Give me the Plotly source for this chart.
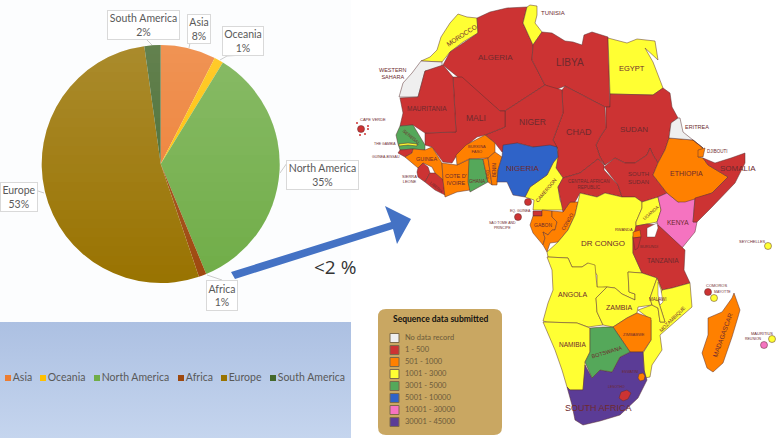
import plotly.graph_objects as go

W, H = 779, 439

# pie data
regions = ['Asia', 'Oceania', 'North America', 'Africa', 'Europe', 'South America']
shares = [7.5, 1.25, 35, 1.05, 53, 2.2]
share_labels = ['8%', '1%', '35%', '1%', '53%', '2%']
region_colors = ['#ED7D31', '#FFC000', '#70AD47', '#9E480E', '#997300', '#43682B']

# callout boxes: centre x, centre y, width, height (image pixels)
callout_boxes = [(198.5, 28.5, 24, 30), (243, 40.5, 42, 30), (322.5, 175, 73, 30),
                 (221.5, 295, 32, 31), (19, 197, 38, 30), (143.5, 25, 73, 30)]
callout_leaders = [[(190, 43), (189, 48)], [(220, 60), (227, 56), (244, 55)], [(280, 173), (287, 163)],
                   [(207, 275), (222, 280)], [(38, 191), (44, 193)], [(152, 45), (147, 40)]]

legend_x = [8, 43, 97, 181, 224, 273]

# sequence-count tiers of the map legend
tier_labels = ['No data record', '1 - 500', '501 - 1000', '1001 - 3000', '3001 - 5000',
               '5001 - 10000', '10001 - 30000', '30001 - 45000']
tier_colors = ['#EFEFEF', '#CC3333', '#FF8000', '#FFFF33', '#55A85A', '#2F63C8', '#F573C0', '#5B3C96']
tier_swatch_y = [338, 350, 362, 374, 386, 398, 410, 422]

morocco = [(421, 61), (430, 57), (437, 50), (441, 37), (450, 23), (458, 14), (467, 17), (477, 18), (478, 33), (463, 42), (450, 52), (442, 62)]
western_sahara = [(421, 61), (442, 62), (442, 70), (425, 71), (418, 97), (399, 97), (403, 83), (412, 73)]
algeria = [(477, 18), (490, 12), (507, 8), (527, 7), (523, 23), (533, 45), (532, 60), (545, 85), (505, 111), (500, 111), (443, 65), (450, 52), (478, 33)]
tunisia = [(527, 7), (530, 5), (537, 6), (537, 15), (535, 23), (542, 32), (535, 42), (533, 45), (523, 23)]
libya = [(542, 32), (552, 33), (565, 41), (573, 42), (582, 45), (584, 35), (592, 32), (608, 37), (610, 107), (605, 107), (565, 86), (555, 90), (545, 85), (532, 60), (533, 45)]
egypt = [(608, 38), (627, 43), (637, 39), (655, 41), (658, 60), (645, 48), (653, 62), (663, 88), (653, 95), (610, 94)]
sudan = [(610, 94), (653, 95), (663, 88), (670, 93), (672, 107), (678, 118), (671, 123), (669, 138), (665, 150), (658, 163), (653, 155), (650, 148), (647, 155), (635, 163), (625, 163), (615, 158), (605, 165), (600, 157), (596, 145), (600, 137), (606, 128), (606, 107), (610, 107)]
chad = [(565, 86), (605, 107), (606, 128), (600, 137), (596, 145), (600, 157), (605, 165), (598, 159), (580, 173), (563, 178), (556, 168), (558, 150), (553, 140), (563, 113), (562, 90)]
niger = [(505, 111), (545, 85), (562, 90), (563, 113), (553, 140), (557, 147), (533, 147), (517, 143), (502, 152), (495, 143), (485, 135), (505, 127)]
mali = [(453, 77), (462, 77), (500, 111), (505, 111), (505, 127), (485, 135), (477, 137), (466, 146), (457, 155), (452, 163), (443, 162), (432, 147), (425, 145), (425, 133), (456, 132)]
mauritania = [(418, 97), (425, 71), (443, 65), (453, 77), (456, 132), (425, 133), (413, 125), (400, 126), (403, 113), (400, 98)]
senegal = [(400, 126), (413, 125), (425, 145), (425, 150), (413, 149), (400, 150), (398, 144), (396, 135)]
gambia = [(399, 144), (408, 143), (417, 144), (417, 146), (408, 145), (399, 146)]
guinea_bissau = [(400, 150), (413, 149), (412, 153), (405, 157), (398, 153)]
guinea = [(413, 149), (425, 150), (432, 147), (442, 163), (443, 180), (435, 173), (432, 167), (423, 163), (418, 168), (412, 163), (405, 157), (412, 153)]
sierra_leone = [(418, 168), (423, 163), (428, 167), (430, 173), (425, 182), (418, 177), (417, 172)]
liberia = [(430, 173), (435, 173), (443, 180), (445, 195), (435, 190), (425, 182)]
cote_divoire = [(442, 163), (457, 165), (470, 159), (469, 182), (470, 190), (457, 192), (445, 197), (443, 180)]
ghana = [(469, 159), (483, 159), (488, 182), (478, 188), (470, 192), (468, 182)]
togo = [(483, 159), (488, 158), (492, 185), (488, 182)]
benin = [(488, 158), (495, 152), (502, 157), (498, 170), (497, 185), (492, 185)]
burkina_faso = [(457, 165), (456, 155), (466, 145), (485, 135), (495, 143), (495, 152), (488, 158), (469, 159)]
cameroon = [(557, 147), (558, 157), (556, 168), (563, 178), (558, 187), (560, 200), (565, 210), (533, 210), (534, 200), (525, 197), (530, 187), (547, 175), (553, 163)]
nigeria = [(498, 170), (502, 157), (503, 145), (517, 143), (533, 147), (550, 145), (557, 147), (558, 157), (553, 163), (547, 175), (530, 187), (525, 197), (513, 195), (507, 182), (497, 182)]
eq_guinea = [(533, 211), (542, 211), (542, 216), (533, 216)]
gabon = [(533, 216), (542, 216), (542, 210), (552, 211), (552, 217), (557, 222), (555, 230), (552, 230), (548, 235), (543, 232), (545, 238), (543, 245), (533, 233), (530, 225)]
congo = [(552, 211), (563, 212), (570, 202), (578, 202), (575, 215), (568, 230), (558, 242), (550, 243), (547, 252), (543, 245), (545, 238), (543, 232), (548, 235), (552, 230), (555, 230), (557, 222), (552, 217)]
car = [(563, 178), (580, 173), (598, 159), (604, 165), (604, 170), (618, 185), (622, 197), (605, 193), (597, 197), (580, 193), (575, 202), (570, 202), (563, 212), (558, 187)]
south_sudan = [(604, 167), (615, 158), (625, 163), (635, 163), (647, 155), (650, 148), (653, 155), (658, 163), (653, 175), (667, 193), (658, 197), (642, 202), (635, 197), (622, 197), (618, 185)]
dr_congo = [(578, 202), (580, 193), (597, 197), (605, 193), (622, 197), (635, 197), (642, 202), (642, 208), (636, 222), (636, 232), (633, 237), (633, 253), (642, 273), (628, 272), (629, 292), (635, 294), (635, 300), (622, 294), (615, 288), (607, 287), (597, 288), (597, 275), (588, 263), (582, 267), (572, 267), (568, 258), (548, 257), (547, 252), (558, 242), (568, 230), (575, 215)]
uganda = [(642, 202), (658, 197), (661, 210), (657, 222), (647, 224), (636, 226), (636, 222), (642, 208)]
kenya = [(658, 197), (667, 193), (678, 202), (695, 198), (693, 222), (697, 222), (695, 232), (682, 248), (658, 225), (657, 222), (661, 210)]
ethiopia = [(669, 138), (693, 140), (703, 148), (698, 157), (703, 158), (708, 165), (728, 177), (712, 193), (698, 198), (685, 202), (678, 202), (667, 193), (653, 175), (658, 163), (665, 150)]
somalia = [(703, 158), (715, 163), (731, 158), (745, 153), (745, 163), (735, 183), (712, 207), (697, 222), (693, 222), (695, 198), (712, 193), (728, 177), (708, 165)]
eritrea = [(678, 118), (680, 118), (683, 132), (703, 148), (693, 140), (669, 138), (671, 123)]
djibouti = [(698, 150), (705, 148), (703, 157), (698, 157)]
tanzania = [(636, 226), (647, 224), (658, 225), (685, 250), (684, 270), (690, 283), (672, 288), (662, 290), (657, 278), (642, 273), (633, 253), (633, 237)]
rwanda = [(633, 232), (640, 230), (641, 237), (633, 238)]
burundi = [(633, 238), (641, 237), (638, 248), (635, 250)]
angola = [(547, 257), (568, 258), (572, 267), (582, 267), (588, 263), (595, 265), (597, 287), (607, 287), (596, 298), (597, 312), (603, 325), (588, 327), (577, 323), (547, 322), (543, 321), (548, 303), (553, 290), (552, 270)]
zambia = [(596, 298), (607, 287), (615, 288), (622, 294), (635, 300), (635, 294), (629, 292), (628, 272), (642, 273), (657, 278), (650, 298), (652, 305), (638, 307), (637, 313), (627, 318), (613, 327), (603, 325), (597, 312)]
malawi = [(657, 278), (662, 290), (658, 300), (665, 322), (660, 322), (658, 308), (652, 305), (650, 298)]
mozambique = [(662, 290), (672, 288), (690, 283), (692, 307), (660, 335), (662, 350), (652, 365), (650, 377), (645, 378), (643, 353), (651, 340), (651, 320), (638, 310), (652, 305), (658, 308), (660, 322), (665, 322), (658, 300)]
zimbabwe = [(613, 327), (627, 318), (637, 313), (651, 318), (651, 340), (643, 352), (630, 352), (623, 342)]
botswana = [(590, 328), (603, 327), (613, 327), (623, 342), (630, 352), (620, 357), (612, 372), (600, 370), (592, 378), (585, 362), (590, 352)]
namibia = [(543, 322), (577, 323), (590, 328), (590, 352), (585, 362), (585, 368), (583, 390), (570, 390), (567, 387), (562, 370), (555, 350)]
south_africa = [(567, 387), (570, 390), (583, 390), (585, 365), (592, 378), (600, 370), (612, 372), (620, 357), (630, 352), (643, 352), (644, 370), (647, 380), (638, 398), (620, 415), (600, 421), (583, 425), (575, 420), (572, 405)]
lesotho = [(621, 392), (627, 390), (631, 393), (628, 399), (623, 401), (619, 398)]
eswatini = [(639, 374), (643, 373), (645, 376), (644, 380), (640, 381), (638, 378)]
madagascar = [(734, 293), (740, 310), (738, 317), (732, 337), (723, 363), (713, 372), (707, 368), (702, 353), (708, 335), (708, 318), (722, 312), (732, 298)]
lake_victoria = [(647, 228), (657, 223), (658, 228), (655, 237), (647, 237)]
lake_malawi = [(658, 282), (661, 290), (663, 302), (660, 305), (658, 295)]

# (outline, tier index), in drawing order
map_countries = [
    (morocco, 3), (western_sahara, 0), (algeria, 1), (tunisia, 3), (libya, 1), (egypt, 3), (sudan, 1),
    (chad, 1), (niger, 1), (mali, 1), (mauritania, 1), (senegal, 4), (gambia, 3), (guinea_bissau, 1),
    (guinea, 2), (sierra_leone, 1), (liberia, 1), (cote_divoire, 2), (burkina_faso, 2), (ghana, 4),
    (togo, 2), (benin, 2), (cameroon, 3), (nigeria, 5), (eq_guinea, 1), (gabon, 2), (congo, 2), (car, 1),
    (south_sudan, 1), (dr_congo, 3), (uganda, 3), (kenya, 6), (ethiopia, 2), (somalia, 1), (eritrea, 0),
    (djibouti, 2), (tanzania, 1), (rwanda, 2), (burundi, 1), (angola, 3), (zambia, 3), (mozambique, 3),
    (malawi, 3), (zimbabwe, 2), (namibia, 3), (south_africa, 7), (botswana, 4), (lesotho, 1), (eswatini, 2),
    (madagascar, 2),
]

# islands: x, y, tier index
island_x = [768, 708, 714, 772, 764, 518, 528, 361]
island_y = [246, 292, 298, 339, 345, 217, 202, 129]
island_tier = [3, 1, 3, 3, 6, 1, 1, 1]
cape_verde_x = [357, 368, 368, 360, 365]
cape_verde_y = [123, 126, 129, 135, 134]

# name, x, y, size, angle
map_labels = [
    ('TUNISIA', 553, 13, 6, 0), ('MOROCCO', 461, 35, 6.5, -33), ('ALGERIA', 495, 57, 8, 0), ('LIBYA', 570, 62, 10, 0),
    ('EGYPT', 632, 68, 7.5, 0), ('WESTERN<br>SAHARA', 393, 73, 5.5, 0), ('MAURITANIA', 427, 108, 6.5, 0),
    ('MALI', 476, 118, 8.5, 0), ('NIGER', 532, 122, 8.5, 0), ('CHAD', 579, 132, 9, 0), ('SUDAN', 634, 129, 8, 0),
    ('ERITREA', 697, 127, 5.5, 0), ('DJIBOUTI', 717, 151, 4.5, 0), ('SOMALIA', 738, 168, 8, 0), ('ETHIOPIA', 686, 173, 7, 0),
    ('SOUTH<br>SUDAN', 638, 178, 6, 0), ('CENTRAL AFRICAN<br>REPUBLIC', 589, 184, 4.5, 0), ('KENYA', 678, 222, 6.5, 0),
    ('UGANDA', 650, 213, 4.5, -40), ('CAMEROON', 546, 190, 5, -50), ('NIGERIA', 523, 168, 8, 0), ('GHANA', 477, 181, 4.5, 0),
    ('BENIN', 494, 170, 4.5, -90), ('TOGO', 488, 175, 3.5, -90), ('BURKINA<br>FASO', 477, 149, 4, 0),
    ("COTE D'<br>IVOIRE", 456, 179, 5.5, 0), ('GUINEA', 426, 159, 5.5, 0), ('LIBERIA', 437, 187, 4, 40),
    ('SIERRA<br>LEONE', 409, 179, 4, 0), ('SENEGAL', 412, 137, 4.5, 40), ('THE GAMBIA', 385, 144, 3.5, 0),
    ('GUINEA-BISSAU', 386, 157, 3.5, 0), ('CAPE VERDE', 373, 119, 4, 0), ('EQ. GUINEA', 520, 211, 3.5, 0),
    ('SAO TOME AND<br>PRINCIPE', 502, 225, 3.5, 0), ('GABON', 543, 225, 5, 0), ('CONGO', 567, 222, 5, -60),
    ('DR CONGO', 603, 243, 8, 0), ('RWANDA', 624, 229, 4, 0), ('BURUNDI', 649, 246, 4, 0), ('TANZANIA', 663, 260, 6.5, 0),
    ('ANGOLA', 573, 294, 7, 0), ('ZAMBIA', 619, 307, 7, 0), ('MALAWI', 658, 299, 4.5, 0), ('MOZAMBIQUE', 672, 319, 5, -45),
    ('ZIMBABWE', 634, 334, 4, 0), ('BOTSWANA', 607, 352, 5.5, -17), ('NAMIBIA', 572, 344, 6.5, 0), ('ESWATINI', 630, 372, 3.5, 0),
    ('LESOTHO', 616, 387, 3.5, 0), ('SOUTH AFRICA', 598, 408, 9, 0), ('SEYCHELLES', 752, 241, 4, 0), ('COMOROS', 716, 285, 4, 0),
    ('MAYOTTE', 722, 292, 3.5, 0), ('MADAGASCAR', 722, 335, 6.5, -70), ('MAURITIUS', 762, 333, 4, 0), ('REUNION', 753, 339, 3.5, 0),
]

arrow = [(231, 272), (391, 222), (385, 206), (411, 219), (397, 244), (393, 229), (235, 279)]

TEXT_GREY = '#595959'
MAP_TEXT = '#6E2A2E'
COAST = '#5A3030'


def path_from(points):
    return 'M ' + ' L '.join(f'{x},{y}' for x, y in points) + ' Z'


def pie_sheen(cx, cy, r, steps=26):
    """ Office style gradient on the pie, white fading out towards the bottom"""
    shapes = []
    top = cy - r
    for i in range(steps):
        y0 = top + round(i * 2 * r / steps)
        y1 = top + round((i + 1) * 2 * r / steps)
        pts = []
        for y in range(y0, y1 + 1):
            pts.append((cx + max(r * r - (y - cy) ** 2, 0) ** 0.5, y))
        for y in range(y1, y0 - 1, -1):
            pts.append((cx - max(r * r - (y - cy) ** 2, 0) ** 0.5, y))
        alpha = 0.17 * (1 - i / steps)
        shapes.append(dict(type='path', path=path_from(pts), fillcolor=f'rgba(255,255,255,{alpha:.3f})',
                           line=dict(width=0), layer='above'))
    return shapes


fig = go.Figure()

# legend panel under the pie
fig.add_trace(go.Scatter(x=[0, 351, 351, 0, 0], y=[322, 322, 438, 438, 322], mode='lines', fill='toself',
                         line=dict(width=0), hoverinfo='skip', showlegend=False,
                         fillgradient=dict(type='vertical', start=322, stop=438,
                                           colorscale=[[0, '#ACC0E2'], [1, '#C5D5EE']])))

for outline, tier in map_countries:
    xs = [p[0] for p in outline] + [outline[0][0]]
    ys = [p[1] for p in outline] + [outline[0][1]]
    fig.add_trace(go.Scatter(x=xs, y=ys, mode='lines', fill='toself', fillcolor=tier_colors[tier],
                             line=dict(color=COAST, width=0.5), hoverinfo='skip', showlegend=False))

for lake in [lake_victoria, lake_malawi]:
    xs = [p[0] for p in lake] + [lake[0][0]]
    ys = [p[1] for p in lake] + [lake[0][1]]
    fig.add_trace(go.Scatter(x=xs, y=ys, mode='lines', fill='toself', fillcolor='white',
                             line=dict(color=COAST, width=0.4), hoverinfo='skip', showlegend=False))

fig.add_trace(go.Scatter(x=island_x, y=island_y, mode='markers', hoverinfo='skip', showlegend=False,
                         marker=dict(size=7, color=[tier_colors[t] for t in island_tier],
                                     line=dict(color=COAST, width=0.5))))
fig.add_trace(go.Scatter(x=cape_verde_x, y=cape_verde_y, mode='markers', hoverinfo='skip', showlegend=False,
                         marker=dict(size=2, color=tier_colors[1])))

# map legend swatches and their labels
fig.add_trace(go.Scatter(x=[394.5] * len(tier_labels), y=tier_swatch_y, mode='markers', hoverinfo='skip',
                         showlegend=False,
                         marker=dict(symbol='square', size=9, color=tier_colors, line=dict(color='#7D6A4A', width=1))))
fig.add_trace(go.Scatter(x=[405] * len(tier_labels), y=tier_swatch_y, mode='text', text=tier_labels,
                         textposition='middle right', hoverinfo='skip', showlegend=False,
                         textfont=dict(family='Lato', size=7.5, color='#6B5A3A')))

# pie legend
fig.add_trace(go.Scatter(x=legend_x, y=[378] * len(regions), mode='markers+text', text=regions,
                         textposition='middle right', hoverinfo='skip', showlegend=False,
                         textfont=dict(family='Lato', size=10.5, color=TEXT_GREY),
                         marker=dict(symbol='square', size=6, color=region_colors)))

pie_cx, pie_cy, pie_r = 160.7, 164, 119
fig.add_trace(go.Pie(labels=regions, values=shares, sort=False, direction='clockwise', rotation=0,
                     textinfo='none', hoverinfo='label+percent', showlegend=False,
                     marker=dict(colors=region_colors, line=dict(width=0)),
                     domain=dict(x=[(pie_cx - pie_r) / W, (pie_cx + pie_r) / W],
                                 y=[1 - (pie_cy + pie_r) / H, 1 - (pie_cy - pie_r) / H])))

shapes = [
    dict(type='rect', x0=0, x1=351, y0=0, y1=322, fillcolor='#FCFDFE', line=dict(width=0), layer='below'),
    dict(type='path', path='M 386,309 L 494,309 Q 502,309 502,317 L 502,427 Q 502,435 494,435 L 386,435 '
                           'Q 378,435 378,427 L 378,317 Q 378,309 386,309 Z',
         fillcolor='#C9A762', line=dict(width=0), layer='below'),
    dict(type='path', path=path_from(arrow), fillcolor='#4472C4', line=dict(width=0), layer='above'),
]
shapes += pie_sheen(pie_cx, pie_cy, pie_r)
for leader in callout_leaders:
    shapes.append(dict(type='path', path='M ' + ' L '.join(f'{x},{y}' for x, y in leader),
                       line=dict(color='#BFBFBF', width=0.8), layer='above'))

annotations = []
for name, pct, (bx, by, bw, bh) in zip(regions, share_labels, callout_boxes):
    annotations.append(dict(x=bx, y=by, xref='x', yref='y', text=f'{name}<br>{pct}', showarrow=False,
                            width=bw - 2, height=bh - 2, borderpad=0, bgcolor='white', bordercolor='#D9D9D9',
                            borderwidth=1, font=dict(family='Lato', size=10.5, color=TEXT_GREY)))
annotations.append(dict(x=335, y=267, xref='x', yref='y', text='&lt;2 %', showarrow=False,
                        font=dict(family='Open Sans', size=19, color='#333333')))
annotations.append(dict(x=440, y=319, xref='x', yref='y', text='<b>Sequence data submitted</b>', showarrow=False,
                        font=dict(family='Lato', size=8.5, color='#111111')))
for name, x, y, size, angle in map_labels:
    annotations.append(dict(x=x, y=y, xref='x', yref='y', text=name, showarrow=False, textangle=angle,
                            font=dict(family='Liberation Sans', size=size, color=MAP_TEXT)))

fig.update_layout(
    width=W, height=H, margin=dict(l=0, r=0, t=0, b=0),
    paper_bgcolor='white', plot_bgcolor='white', showlegend=False,
    xaxis=dict(range=[0, W], visible=False, fixedrange=True),
    yaxis=dict(range=[H, 0], visible=False, fixedrange=True),
    shapes=shapes, annotations=annotations,
)

# the browser's default body margin would push everything 8px off the reference
fig.write_html("out.html", config={'displayModeBar': False},
               post_script="document.body.style.margin='0';document.body.style.overflow='hidden';")
